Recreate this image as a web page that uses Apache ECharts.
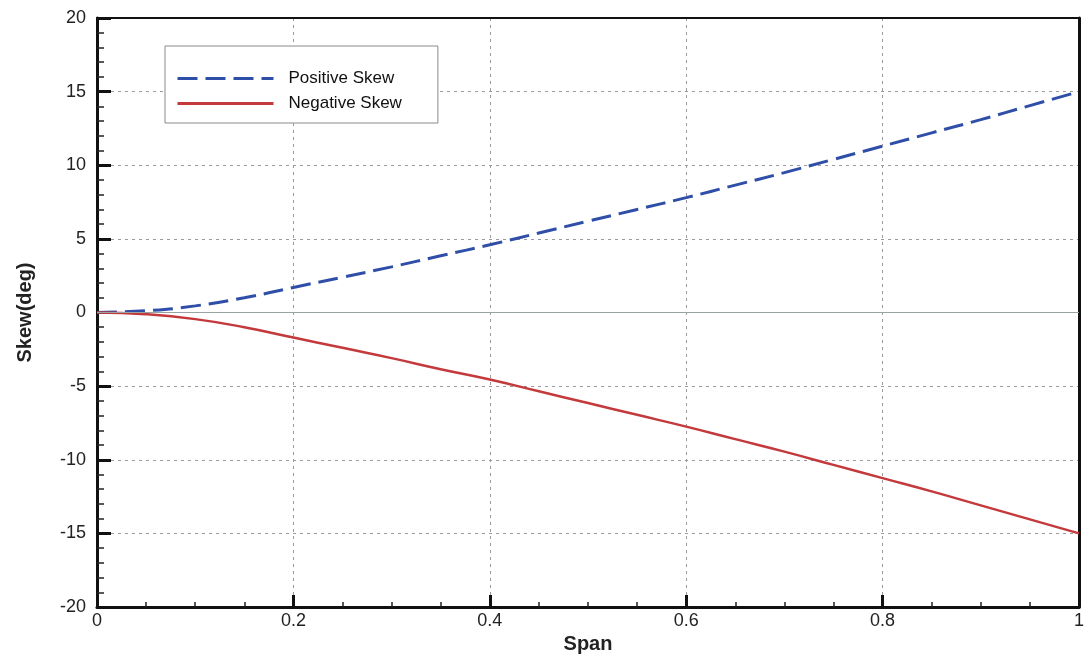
<!DOCTYPE html>
<html>
<head>
<meta charset="utf-8">
<script src="https://cdn.jsdelivr.net/npm/echarts@6/dist/echarts.min.js"></script>
<style>html,body{margin:0;padding:0;background:#fff}#c{width:1087px;height:660px}</style>
</head>
<body>
<div id="c"></div>
<script>
var span = [0, 0.05, 0.1, 0.15, 0.2, 0.25, 0.3, 0.35, 0.4, 0.45, 0.5, 0.55, 0.6, 0.65, 0.7, 0.75, 0.8, 0.85, 0.9, 0.95, 1.0];
var positiveSkew = [0, 0.12, 0.45, 1.0, 1.7, 2.4, 3.1, 3.85, 4.6, 5.4, 6.2, 7.0, 7.8, 8.65, 9.5, 10.4, 11.3, 12.2, 13.1, 14.05, 15.0];
var negativeSkew = [0, -0.12, -0.45, -1.0, -1.7, -2.4, -3.1, -3.85, -4.55, -5.35, -6.15, -6.95, -7.75, -8.6, -9.45, -10.35, -11.25, -12.15, -13.1, -14.05, -15.0];
var xTicks = [0, 0.2, 0.4, 0.6, 0.8, 1];
var yTicks = [-20, -15, -10, -5, 0, 5, 10, 15, 20];

function pairs(xs, ys) { return xs.map(function (x, i) { return [x, ys[i]]; }); }

var font = 'Liberation Sans, Arial, sans-serif';
var chart = echarts.init(document.getElementById('c'));
chart.setOption({
  animation: false,
  backgroundColor: '#fff',
  grid: { left: 97, right: 8, top: 18, bottom: 53, containLabel: false },
  legend: {
    left: 165, top: 46, orient: 'vertical',
    backgroundColor: '#fff',
    borderColor: '#8a8a8a', borderWidth: 1,
    padding: [24, 36, 11, 11],
    itemWidth: 96, itemHeight: 14, itemGap: 8,
    itemStyle: { opacity: 0, borderWidth: 0 },
    lineStyle: { width: 3 },
    textStyle: { fontFamily: font, fontSize: 17, color: '#111', padding: [0, 0, 0, 10] },
    data: ['Positive Skew', 'Negative Skew']
  },
  xAxis: [{
    type: 'value', min: 0, max: 1, interval: 0.2,
    name: 'Span', nameLocation: 'middle', nameGap: 25,
    nameTextStyle: { fontFamily: font, fontSize: 20, fontWeight: 'bold', color: '#222' },
    axisLine: { show: true, onZero: false, lineStyle: { color: '#111', width: 3 } },
    axisTick: { show: true, inside: true, length: 12, lineStyle: { color: '#111', width: 3 } },
    minorTick: { show: true, splitNumber: 4, length: 5, lineStyle: { color: '#222', width: 1.5 } },
    axisLabel: { fontFamily: font, fontSize: 18, color: '#222', margin: 5,
      formatter: function (v) { return xTicks.indexOf(Math.round(v * 10) / 10) >= 0 ? String(Math.round(v * 10) / 10) : ''; } },
    splitLine: { show: true, lineStyle: { color: '#9a9a9a', width: 1, type: [3, 4] } }
  }, {
    type: 'value', min: 0, max: 1, position: 'top',
    axisLine: { show: true, onZero: false, lineStyle: { color: '#111', width: 2 } },
    axisTick: { show: false }, axisLabel: { show: false }, splitLine: { show: false }
  }],
  yAxis: [{
    type: 'value', min: -20, max: 20, interval: 5,
    name: 'Skew(deg)', nameLocation: 'middle', nameGap: 62, nameRotate: 90,
    nameTextStyle: { fontFamily: font, fontSize: 20, fontWeight: 'bold', color: '#222' },
    axisLine: { show: true, onZero: false, lineStyle: { color: '#111', width: 3 } },
    axisTick: { show: true, inside: true, length: 14, lineStyle: { color: '#111', width: 3 } },
    minorTick: { show: true, splitNumber: 5, length: 7, lineStyle: { color: '#222', width: 1.5 } },
    axisLabel: { fontFamily: font, fontSize: 18, color: '#222', margin: 11,
      formatter: function (v) { return yTicks.indexOf(v) >= 0 ? String(v) : ''; } },
    splitLine: { show: true, lineStyle: { color: '#9a9a9a', width: 1, type: [3, 4] } }
  }, {
    type: 'value', min: -20, max: 20, position: 'right',
    axisLine: { show: true, onZero: false, lineStyle: { color: '#111', width: 3 } },
    axisTick: { show: false }, axisLabel: { show: false }, splitLine: { show: false }
  }],
  series: [{
    name: 'Positive Skew', type: 'line', showSymbol: false, symbol: 'none', smooth: true,
    data: pairs(span, positiveSkew),
    lineStyle: { color: '#2f4ea8', width: 3, type: [20, 8] },
    itemStyle: { color: '#2f4ea8' },
    markLine: {
      silent: true, symbol: 'none', label: { show: false }, animation: false,
      lineStyle: { color: '#9aa3a3', width: 1.2, type: 'solid' },
      data: [{ yAxis: 0 }]
    },
    z: 3
  }, {
    name: 'Negative Skew', type: 'line', showSymbol: false, symbol: 'none', smooth: true,
    data: pairs(span, negativeSkew),
    lineStyle: { color: '#c3393c', width: 2.5, type: 'solid' },
    itemStyle: { color: '#c3393c' },
    z: 3
  }]
});
</script>
</body>
</html>
